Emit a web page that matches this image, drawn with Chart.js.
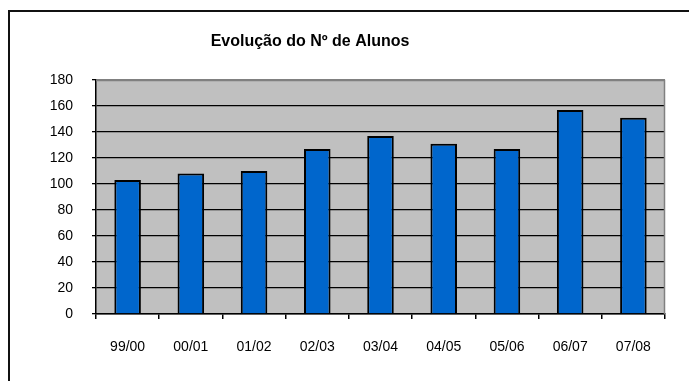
<!DOCTYPE html>
<html>
<head>
<meta charset="utf-8">
<script src="https://cdn.jsdelivr.net/npm/chart.js@4/dist/chart.umd.min.js"></script>
<style>
  html, body { margin: 0; padding: 0; background: #fff; }
  #wrap { width: 689px; height: 381px; }
</style>
</head>
<body>
<div id="wrap"><canvas id="chart" width="689" height="381"></canvas></div>
<script>
// Chart data
const chartTitle = 'Evolução do Nº de Alunos';
const years = ['99/00', '00/01', '01/02', '02/03', '03/04', '04/05', '05/06', '06/07', '07/08'];
const students = [103, 108, 110, 127, 137, 131, 127, 157, 151];
const yMin = 0;
const yMax = 180;
const yStep = 20;

const fontFamily = '"Liberation Sans", Arial, sans-serif';

// Grey plot background, outer frame and title
const decorPlugin = {
  id: 'decor',
  beforeDraw(chart) {
    const { ctx, chartArea: a } = chart;
    ctx.save();
    ctx.fillStyle = '#fff';
    ctx.fillRect(0, 0, chart.width, chart.height);
    ctx.fillStyle = '#c0c0c0';
    ctx.fillRect(a.left, a.top, a.right - a.left, a.bottom - a.top);
    // outer frame
    ctx.strokeStyle = '#111';
    ctx.lineWidth = 2;
    ctx.strokeRect(9, 11, chart.width + 20, chart.height + 20);
    // title
    ctx.fillStyle = '#000';
    ctx.font = 'bold 16px ' + fontFamily;
    ctx.textAlign = 'center';
    ctx.textBaseline = 'alphabetic';
    ctx.fillText(chartTitle, 310, 46);
    ctx.restore();
  },
  beforeDatasetsDraw(chart) {
    const { ctx, chartArea: a } = chart;
    ctx.save();
    ctx.strokeStyle = '#808080';
    ctx.lineWidth = 1.5;
    ctx.beginPath();
    ctx.moveTo(a.left, Math.round(a.top) + 0.5);
    ctx.lineTo(Math.round(a.right) - 0.5, Math.round(a.top) + 0.5);
    ctx.lineTo(Math.round(a.right) - 0.5, a.bottom);
    ctx.stroke();
    ctx.restore();
  }
};

new Chart(document.getElementById('chart'), {
  type: 'bar',
  data: {
    labels: years,
    datasets: [{
      label: 'Nº de Alunos',
      data: students,
      backgroundColor: '#0066cc',
      borderColor: '#000',
      borderWidth: 2,
      borderSkipped: 'bottom',
      categoryPercentage: 1,
      barPercentage: 0.42
    }]
  },
  options: {
    responsive: false,
    animation: false,
    layout: {
      padding: { top: 80, right: 24, bottom: 0, left: 0 }
    },
    plugins: {
      legend: { display: false },
      title: { display: false },
      tooltip: { enabled: false }
    },
    scales: {
      x: {
        afterFit(scale) { scale.height = 67; },
        grid: {
          offset: true,
          drawOnChartArea: false,
          drawTicks: true,
          tickLength: 5,
          color: '#000',
          lineWidth: 1.5
        },
        border: { display: true, color: '#000', width: 1.5 },
        ticks: {
          color: '#000',
          padding: 20,
          maxRotation: 0,
          font: { family: fontFamily, size: 14 }
        }
      },
      y: {
        min: yMin,
        max: yMax,
        afterFit(scale) { scale.width = 96; },
        grid: {
          color: (c) => (c.tick && c.tick.value === yMax ? '#808080' : '#000'),
          tickColor: '#000',
          lineWidth: 1.3,
          drawTicks: true,
          tickLength: 4
        },
        border: { display: true, color: '#000', width: 1.5 },
        ticks: {
          stepSize: yStep,
          color: '#000',
          padding: 19,
          font: { family: fontFamily, size: 14 }
        }
      }
    }
  },
  plugins: [decorPlugin]
});
</script>
</body>
</html>
